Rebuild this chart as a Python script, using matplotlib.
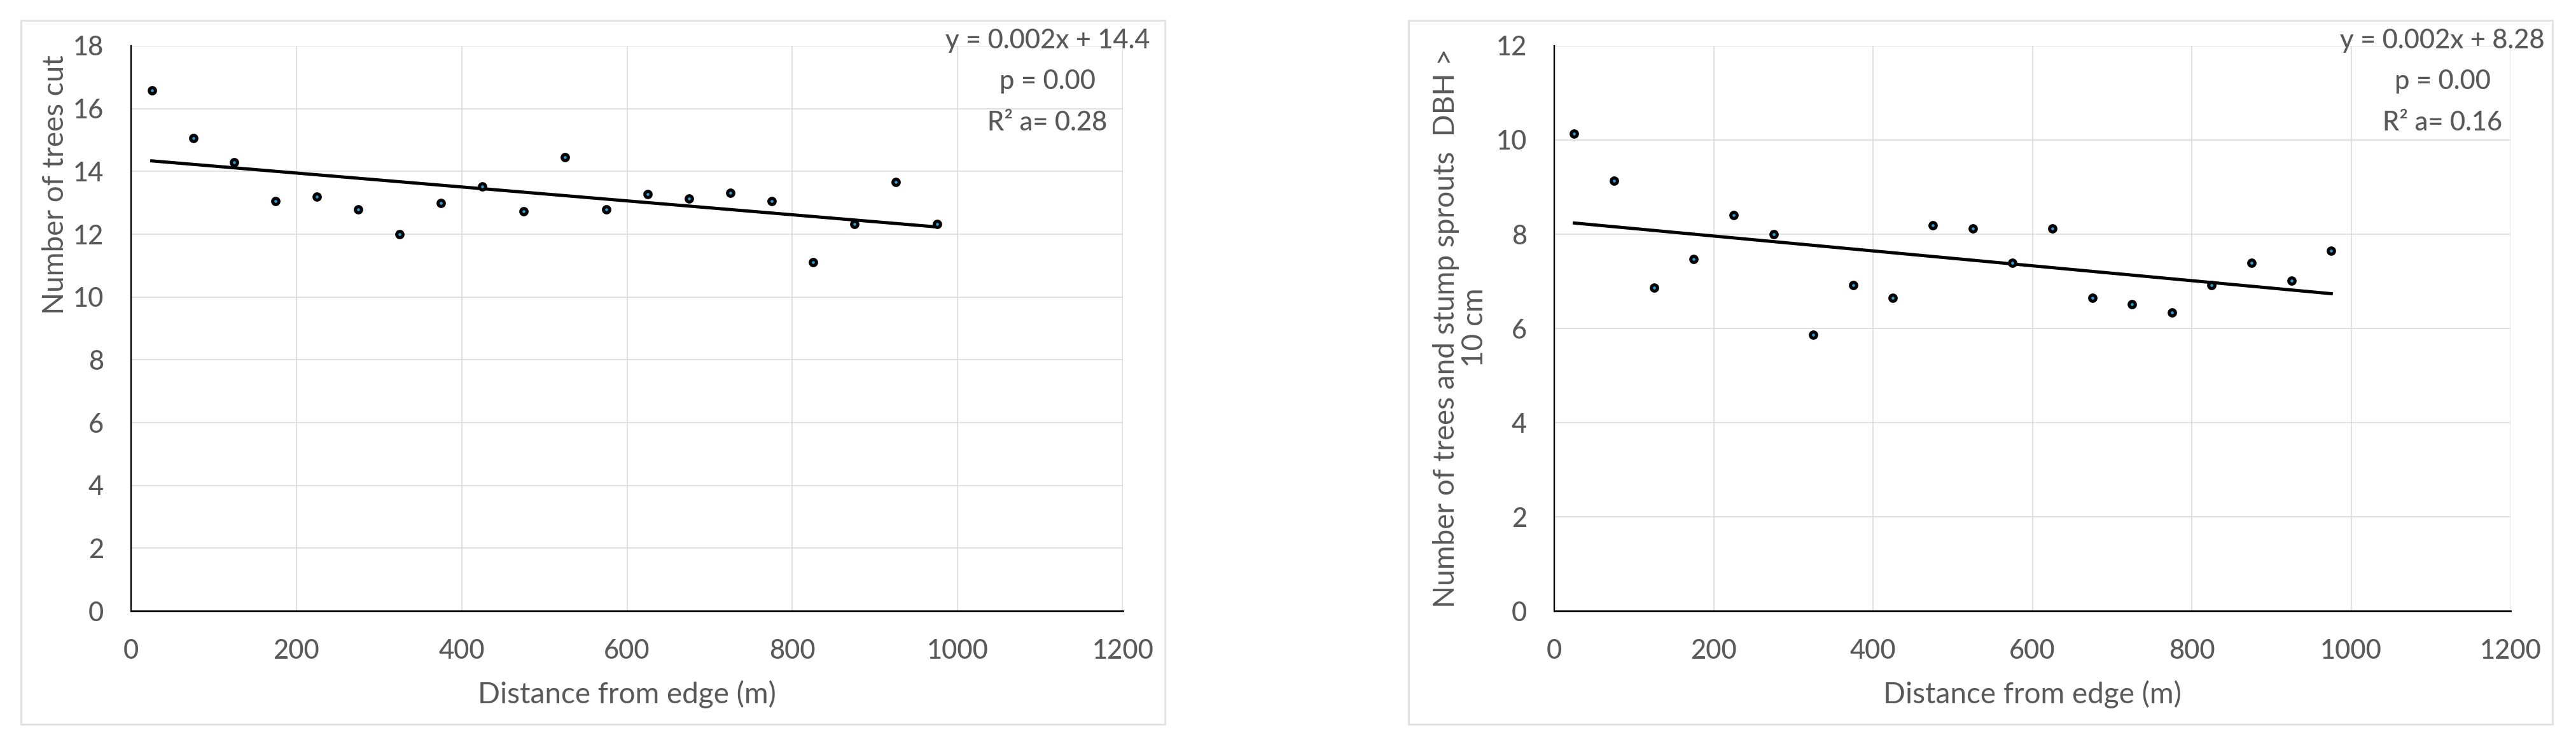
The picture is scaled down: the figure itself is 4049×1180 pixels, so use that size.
import numpy as np
import matplotlib
matplotlib.use("Agg")
import matplotlib.pyplot as plt
from matplotlib.patches import Rectangle

plt.rcParams['font.family'] = ['Lato', 'DejaVu Sans']
plt.rcParams['font.weight'] = 'medium'

# distance classes (m)
distance = [25, 75, 125, 175, 225, 275, 325, 375, 425, 475,
            525, 575, 625, 675, 725, 775, 825, 875, 925, 975]

trees_cut = [16.58, 15.07, 14.29, 13.05, 13.19, 12.79, 12.00, 12.99, 13.52, 12.73,
             14.46, 12.79, 13.28, 13.13, 13.32, 13.06, 11.11, 12.32, 13.66, 12.33]

trees_sprouts = [10.13, 9.14, 6.87, 7.47, 8.40, 8.00, 5.87, 6.92, 6.65, 8.19,
                 8.12, 7.39, 8.12, 6.65, 6.52, 6.34, 6.92, 7.39, 7.01, 7.65]

ylabels = ["Number of trees cut",
           "Number of trees and stump sprouts  DBH >\n10 cm"]
stats = ["y = 0.002x + 14.4\np = 0.00\nR² a= 0.28",
         "y = 0.002x + 8.28\np = 0.00\nR² a= 0.16"]
ymax = [18, 12]

txt = '#595959'
grid = '#d9d9d9'

fig = plt.figure(figsize=(40.49, 11.8), dpi=100)

# outer chart boxes
for bx in [0.00815, 0.5468]:
    fig.patches.append(Rectangle((bx, 0.0356), 0.4441, 0.9373, transform=fig.transFigure,
                                 fill=False, edgecolor='#e3e3e3', lw=2.2))

ax1 = fig.add_axes([0.0509, 0.1864, 0.3850, 0.7526])
ax2 = fig.add_axes([0.6034, 0.1864, 0.3712, 0.7526])

series = [trees_cut, trees_sprouts]
for i, ax in enumerate([ax1, ax2]):
    y = series[i]
    ax.set_xlim(0, 1200)
    ax.set_ylim(0, ymax[i])
    ax.set_xticks(range(0, 1201, 200))
    ax.set_yticks(range(0, ymax[i] + 1, 2))
    ax.grid(True, color=grid, lw=1.1)
    ax.set_axisbelow(True)
    for s in ['top', 'right']:
        ax.spines[s].set_visible(False)
    ax.spines['left'].set_linewidth(1.7)
    ax.spines['bottom'].set_linewidth(2.0)
    ax.tick_params(length=0, labelsize=30, labelcolor=txt)
    ax.tick_params(axis='y', pad=31)
    ax.tick_params(axis='x', pad=32)

    ax.plot(distance, y, linestyle='none', marker='o', ms=7, mew=3.6,
            mec='black', mfc='#2e9fd8', zorder=4)
    coef = np.polyfit(distance, y, 1)
    xs = np.array([distance[0], distance[-1]])
    ax.plot(xs, np.polyval(coef, xs), color='black', lw=3.6, zorder=3)

    ax.set_xlabel('Distance from edge (m)', fontsize=33, color=txt)
    ax.xaxis.set_label_coords(0.5, -0.122)
    ax.set_ylabel(ylabels[i], fontsize=33, color=txt, multialignment='center',
                  linespacing=1.1)

ax1.yaxis.set_label_coords(-0.063, 0.754)
ax2.yaxis.set_label_coords(-0.069, 0.501)

fig.text(0.4463, 0.962, stats[0], ha='right', va='top', multialignment='center',
         fontsize=30, color=txt, linespacing=1.85)
fig.text(0.9879, 0.962, stats[1], ha='right', va='top', multialignment='center',
         fontsize=30, color=txt, linespacing=1.85)

fig.savefig('out.png', dpi=100, facecolor='white')
